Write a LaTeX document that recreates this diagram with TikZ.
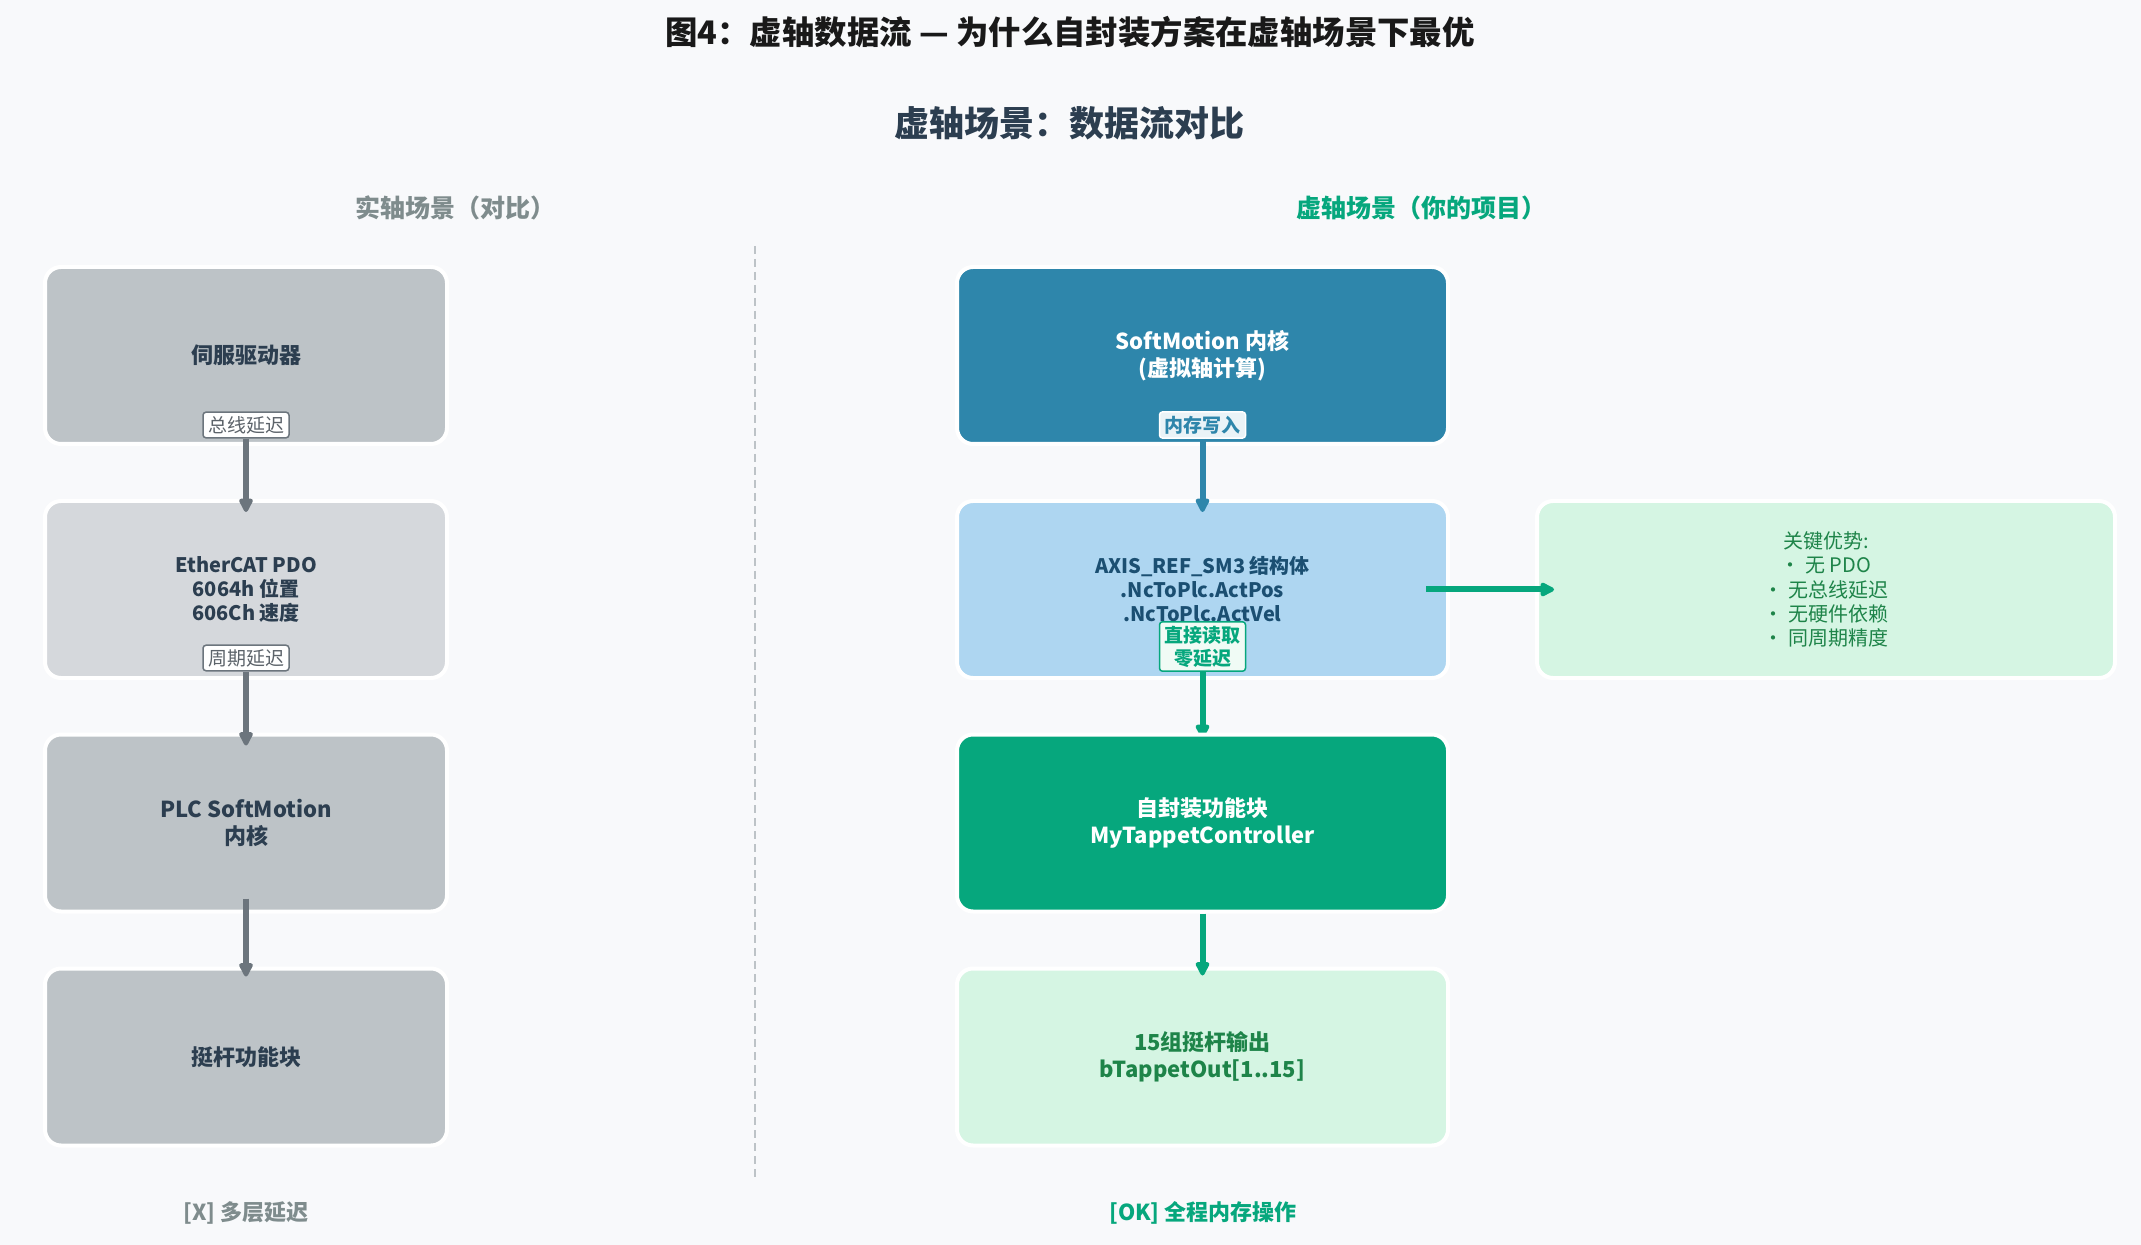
\documentclass[tikz,border=0pt]{standalone}
\usepackage{fontspec}
\setmainfont{Noto Sans CJK SC}
\usepackage{tikz}
\usetikzlibrary{arrows.meta, positioning}

\definecolor{pagebg}{HTML}{F8F9FB}
\definecolor{slate}{HTML}{2C3E50}
\definecolor{steel}{HTML}{BDC3C7}
\definecolor{mist}{HTML}{D5D8DC}
\definecolor{ash}{HTML}{7F8C8D}
\definecolor{pipe}{HTML}{6C757D}
\definecolor{ocean}{HTML}{2E86AB}
\definecolor{sky}{HTML}{AED6F1}
\definecolor{navy}{HTML}{1B4F72}
\definecolor{jade}{HTML}{06A77D}
\definecolor{mint}{HTML}{D5F5E3}
\definecolor{leaf}{HTML}{1E8449}

\begin{document}
\begin{tikzpicture}[x=0.5pt, y=-0.5pt,
	box/.style={rectangle, rounded corners=8pt, draw=white, line width=2pt,
		minimum width=201pt, minimum height=88.5pt, align=center,
		font=\bfseries\fontsize{11}{13.5}\selectfont},
	graybox/.style={box, fill=steel, text=slate},
	widebox/.style={box, minimum width=245.5pt},
	badge/.style={rectangle, rounded corners=1.5pt, line width=0.75pt, inner xsep=2.5pt,
		inner ysep=2pt, align=center, font=\fontsize{9.5}{11}\selectfont},
	graybadge/.style={badge, fill=white, draw=pipe, text=pipe!85!black},
	arr/.style={line width=3pt, -{Triangle[length=8pt, width=7.5pt, round]}},
	head/.style={font=\bfseries\fontsize{12.5}{15}\selectfont}]

	\fill[pagebg] (0, 0) rectangle (2141, 1245);
	\useasboundingbox (0, 0) rectangle (2141, 1245);

	\node (Title) [font=\bfseries\fontsize{16.2}{20}\selectfont, text=black!90] at (1070, 32)
		{图4：虚轴数据流 — 为什么自封装方案在虚轴场景下最优};
	\node (SubTitle) [font=\bfseries\fontsize{17.5}{20}\selectfont, text=slate] at (1069, 123)
		{虚轴场景：数据流对比};

	\node (RealHead) [head, text=ash] at (455, 208) {实轴场景（对比）};
	\node (VirtHead) [head, text=jade] at (1421, 208) {虚轴场景（你的项目）};

	% divider
	\coordinate (DivTop) at (755, 246);
	\coordinate (DivBot) at (755, 1181);
	\draw[steel, line width=1.25pt, dash pattern=on 4pt off 2.5pt] (DivTop) -- (DivBot);

	% real axis column
	\node (Servo) [graybox] at (246, 355.5) {伺服驱动器};
	\node (Pdo) [graybox, fill=mist, font=\bfseries\fontsize{10}{12}\selectfont] at (246, 589.5)
		{EtherCAT PDO\\6064h 位置\\606Ch 速度};
	\node (PlcCore) [graybox] at (246, 823) {PLC SoftMotion\\内核};
	\node (TappetFb) [graybox] at (246, 1057) {挺杆功能块};

	\node (BusLag) [graybadge] at (246, 425) {总线延迟};
	\node (CycleLag) [graybadge] at (246, 658) {周期延迟};

	\draw[arr, pipe] (BusLag.south) -- ([yshift=-6.5pt]Pdo.north);
	\draw[arr, pipe] (CycleLag.south) -- ([yshift=-6.5pt]PlcCore.north);
	\draw[arr, pipe] ([yshift=7.5pt]PlcCore.south) -- ([yshift=-5pt]TappetFb.north);

	\node (RealNote) [font=\bfseries\fontsize{11}{13}\selectfont, text=ash] at (246, 1213) {[X] 多层延迟};

	% virtual axis column
	\node (SmCore) [widebox, fill=ocean, text=white] at (1202.5, 355.5) {SoftMotion 内核\\(虚拟轴计算)};
	\node (AxisRef) [widebox, fill=sky, text=navy, font=\bfseries\fontsize{10}{12}\selectfont] at (1202.5, 589.5)
		{AXIS\_REF\_SM3 结构体\\.NcToPlc.ActPos\\.NcToPlc.ActVel};

	\node (MemWrite) [badge, fill=ocean!10!white, draw=white, text=ocean, font=\bfseries\fontsize{9.5}{11}\selectfont]
		at (1202.5, 425) {内存写入};
	\node (DirectRead) [badge, fill=mint!35!white, draw=jade, text=jade, font=\bfseries\fontsize{9.5}{11.5}\selectfont]
		at (1202.5, 646.5) {直接读取\\零延迟};

	\draw[arr, ocean] (MemWrite.south) -- ([yshift=-6.5pt]AxisRef.north);

	\coordinate (OwnTop) at (1202.5, 738);
	\draw[arr, jade] (DirectRead.south) -- (OwnTop);

	\node (OwnFb) [widebox, fill=jade, text=white] at (1202.5, 823) {自封装功能块\\MyTappetController};
	\node (Outputs) [widebox, fill=mint, text=leaf] at (1202.5, 1057) {15组挺杆输出\\bTappetOut[1..15]};

	\draw[arr, jade] (OwnFb.south) -- ([yshift=-4.5pt]Outputs.north);

	\node (Gains) [box, minimum width=289pt, fill=mint, text=leaf,
		font=\fontsize{10}{12.1}\selectfont] at (1826, 589.5)
		{关键优势:\\· 无 PDO\\· 无总线延迟\\· 无硬件依赖\\· 同周期精度};

	\draw[arr, jade] ([xshift=-12pt]AxisRef.east) -- ([xshift=9.5pt]Gains.west);

	\node (VirtNote) [font=\bfseries\fontsize{11}{13}\selectfont, text=jade] at (1203, 1213) {[OK] 全程内存操作};
\end{tikzpicture}
\end{document}
